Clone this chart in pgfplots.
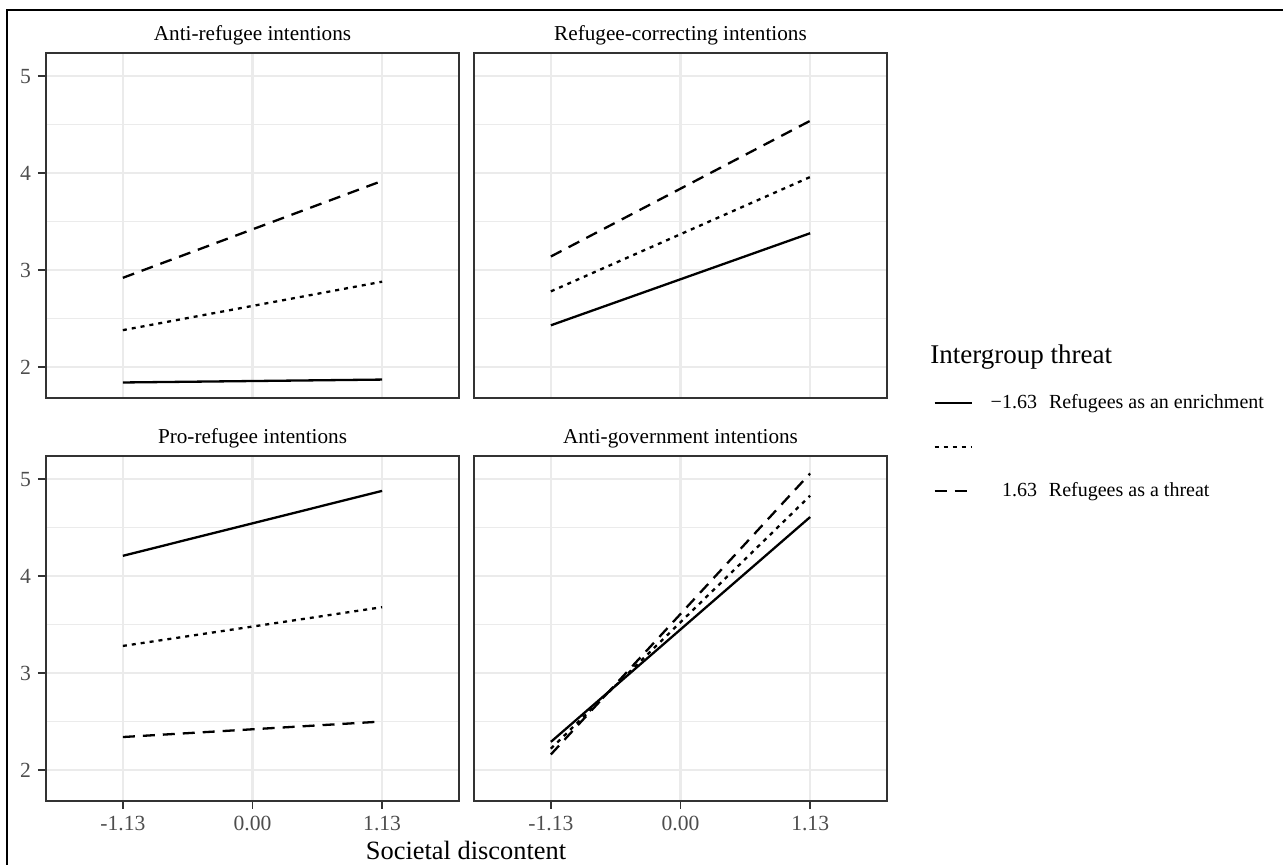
\documentclass[border=0pt]{standalone}
\usepackage{pgfplots}
\pgfplotsset{compat=1.18}
\usepackage{fontspec}
\setmainfont{Liberation Serif}

\definecolor{gridc}{HTML}{EBEBEB}
\definecolor{framec}{HTML}{333333}
\definecolor{tickc}{HTML}{4D4D4D}

\pgfplotsset{
  panel/.style={
    scale only axis, width=206.5pt, height=172.5pt,
    xmin=-1.8, xmax=1.8, ymin=1.68, ymax=5.24,
    xtick={-1.13,0,1.13}, xticklabels={-1.13,0.00,1.13},
    ytick={2,3,4,5}, minor ytick={2.5,3.5,4.5},
    grid=both,
    major grid style={gridc, line width=1.1pt},
    minor grid style={gridc, line width=0.6pt},
    axis line style={framec, line width=0.9pt},
    tick align=outside, major tick length=4pt, minor tick length=0pt,
    tick style={framec, line width=0.9pt},
    xtick pos=bottom, ytick pos=left,
    ticklabel style={font=\fontsize{10.8}{12}\selectfont, text=tickc},
    /pgf/number format/assume math mode=true,
    title style={font=\fontsize{10.6}{12}\selectfont, anchor=base, yshift=0.3pt, inner sep=0pt},
  },
  notop/.style={xticklabels={}, xtick style={draw=none}},
  noleft/.style={yticklabels={}, ytick style={draw=none}},
  lowc/.style={black, line width=1.15pt},
  midc/.style={black, line width=1.15pt, dash pattern=on 2pt off 2.5pt},
  highc/.style={black, line width=1.15pt, dash pattern=on 6pt off 4pt},
}

\begin{document}
\begin{tikzpicture}
\useasboundingbox (0pt,0pt) rectangle (641.5pt,432.5pt);
\draw[black, line width=0.8pt] (3.5pt,0pt) -- (3.5pt,427.5pt) -- (641.5pt,427.5pt);

% top left
\begin{axis}[panel, notop, at={(23pt,233.5pt)}, anchor=south west,
  title={Anti-refugee intentions}]
\addplot[lowc]  coordinates {(-1.13,1.84) (1.13,1.87)};
\addplot[midc]  coordinates {(-1.13,2.38) (1.13,2.88)};
\addplot[highc] coordinates {(-1.13,2.92) (1.13,3.92)};
\end{axis}

% top right
\begin{axis}[panel, notop, noleft, at={(237pt,233.5pt)}, anchor=south west,
  title={Refugee-correcting intentions},
  legend style={at={(1.1114,-0.142)}, anchor=west, draw=none, fill=none,
    inner sep=0pt, font=\fontsize{10}{12}\selectfont,
    nodes={inner sep=0pt, text height=8pt, text depth=2.5pt},
    row sep=11.5pt,
    /tikz/every odd column/.append style={column sep=9pt}},
  legend cell align=left,
  legend image code/.code={\draw[#1] (0pt,0pt) -- (18.5pt,0pt);}]
\addplot[lowc]  coordinates {(-1.13,2.43) (1.13,3.38)};
\addlegendentry{\textminus1.63\hspace{6pt}Refugees as an enrichment}
\addplot[midc]  coordinates {(-1.13,2.78) (1.13,3.96)};
\addlegendentry{}
\addplot[highc] coordinates {(-1.13,3.14) (1.13,4.54)};
\addlegendentry{\hphantom{\textminus}1.63\hspace{6pt}Refugees as a threat}
\end{axis}

% bottom left
\begin{axis}[panel, at={(23pt,32pt)}, anchor=south west,
  title={Pro-refugee intentions}]
\addplot[lowc]  coordinates {(-1.13,4.21) (1.13,4.88)};
\addplot[midc]  coordinates {(-1.13,3.28) (1.13,3.68)};
\addplot[highc] coordinates {(-1.13,2.34) (1.13,2.50)};
\end{axis}

% bottom right
\begin{axis}[panel, noleft, at={(237pt,32pt)}, anchor=south west,
  title={Anti-government intentions}]
\addplot[lowc]  coordinates {(-1.13,2.29) (1.13,4.61)};
\addplot[midc]  coordinates {(-1.13,2.22) (1.13,4.83)};
\addplot[highc] coordinates {(-1.13,2.16) (1.13,5.06)};
\end{axis}

\node[anchor=base, inner sep=0pt, font=\fontsize{13.2}{15}\selectfont] at (233pt,2.5pt) {Societal discontent};
\node[anchor=west, inner sep=0pt, font=\fontsize{13.5}{15}\selectfont] at (465pt,254pt) {Intergroup threat};
\end{tikzpicture}
\end{document}
